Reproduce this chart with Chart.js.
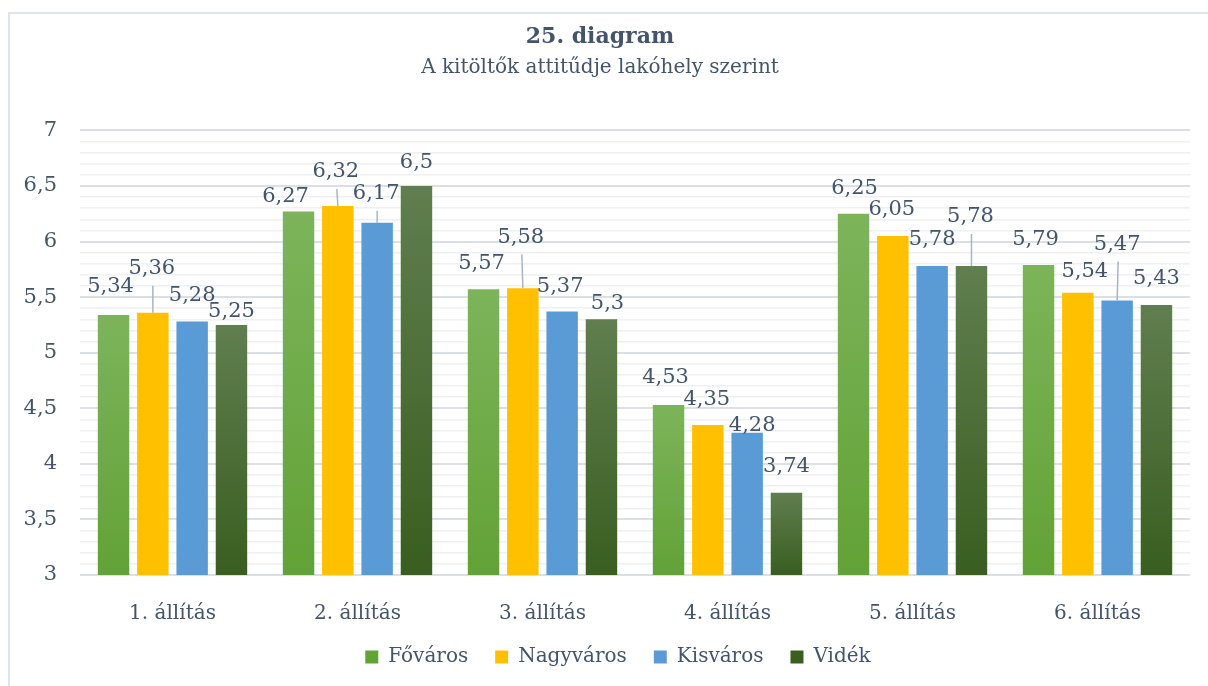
<!DOCTYPE html>
<html>
<head>
<meta charset="utf-8">
<script src="https://cdn.jsdelivr.net/npm/chart.js@4"></script>
<style>
  html, body { margin: 0; padding: 0; background: #fff; overflow: hidden; }
  #frame { position: absolute; left: 8px; top: 12px; width: 1220px; height: 720px;
           border-left: 2px solid #dfe3ea; border-top: 2px solid #dfe3ea; }
  canvas { position: absolute; left: 0; top: 0; }
</style>
</head>
<body>
<div id="frame"></div>
<canvas id="attitudeChart" width="1208" height="686"></canvas>
<script>
const categories = ["1. állítás", "2. állítás", "3. állítás", "4. állítás", "5. állítás", "6. állítás"];
const fovaros   = [5.34, 6.27, 5.57, 4.53, 6.25, 5.79];
const nagyvaros = [5.36, 6.32, 5.58, 4.35, 6.05, 5.54];
const kisvaros  = [5.28, 6.17, 5.37, 4.28, 5.78, 5.47];
const videk     = [5.25, 6.5, 5.3, 3.74, 5.78, 5.43];
const yTickLabels = ["3", "3,5", "4", "4,5", "5", "5,5", "6", "6,5", "7"];

// label placement (px nudges from the bar top), like Excel's moved labels
const labelNudge = [
  [[-3, -28], [-13, -15], [-2, -26], [-3, -27], [1, -25], [-3, -25]],
  [[-1, -44], [-2, -34], [-2, -51], [-1, -25], [-1, -26], [7, -21]],
  [[0, -26], [-1, -29], [-2, -25], [5, -7], [0, -26], [0, -56]],
  [[0, -13], [0, -23], [6, -16], [0, -26], [-1, -49], [0, -26]]
];

const textColor = "#44546a";
const serif = '"DejaVu Serif", serif';
Chart.defaults.font.family = serif;
Chart.defaults.color = textColor;

function barGradient(top, bottom) {
  return (c) => {
    const chart = c.chart;
    const area = chart.chartArea;
    if (!area || c.type !== "data") return bottom;
    const y = chart.scales.y.getPixelForValue(c.raw);
    const g = chart.ctx.createLinearGradient(0, y, 0, area.bottom);
    g.addColorStop(0, top);
    g.addColorStop(1, bottom);
    return g;
  };
}

const barLabels = {
  id: "barLabels",
  afterDatasetsDraw(chart) {
    const ctx = chart.ctx;
    ctx.save();
    ctx.font = "21px " + serif;
    ctx.fillStyle = textColor;
    ctx.textAlign = "center";
    ctx.textBaseline = "middle";
    ctx.strokeStyle = "#aab5c4";
    ctx.lineWidth = 1.5;
    chart.data.datasets.forEach((ds, i) => {
      chart.getDatasetMeta(i).data.forEach((bar, j) => {
        const [dx, dy] = labelNudge[i][j];
        const x = bar.x + dx, y = bar.y + dy;
        if (dy < -28.5) {
          ctx.beginPath();
          ctx.moveTo(x + 1, y + 17);
          ctx.lineTo(bar.x, bar.y);
          ctx.stroke();
        }
        ctx.fillText(String(ds.data[j]).replace(".", ","), x, y);
      });
    });
    ctx.restore();
  }
};

// the legend sits a bit right of centre in the original
const legendShift = {
  id: "legendShift",
  afterLayout(chart) {
    chart.legend.left += 18;
    chart.legend.right += 18;
  }
};

const data = {
  labels: categories,
  datasets: [
    { label: "Főváros", data: fovaros, backgroundColor: barGradient("#7db45b", "#62a236") },
    { label: "Nagyváros", data: nagyvaros, backgroundColor: "#ffc000" },
    { label: "Kisváros", data: kisvaros, backgroundColor: "#5b9bd5" },
    { label: "Vidék", data: videk, backgroundColor: barGradient("#607e4f", "#395e20") }
  ]
};

const config = {
  type: "bar",
  data: data,
  plugins: [barLabels, legendShift],
  options: {
    responsive: false,
    animation: false,
    layout: { padding: { left: 10, right: 18, top: 0, bottom: 9 } },
    datasets: { bar: { categoryPercentage: 0.85, barPercentage: 0.8 } },
    scales: {
      x: {
        grid: { display: false },
        border: { display: false },
        ticks: { padding: 19, font: { size: 20 } },
        afterFit: (s) => { s.height = 45; }
      },
      y: {
        min: 3,
        max: 7,
        border: { display: false },
        grid: {
          drawTicks: false,
          color: (c) => Math.round(c.tick.value * 10) % 5 === 0 ? "#dcdfe6" : "#eef0f4",
          lineWidth: (c) => Math.round(c.tick.value * 10) % 5 === 0 ? 2 : 1.5
        },
        ticks: {
          stepSize: 0.1,
          autoSkip: false,
          padding: 23,
          font: { size: 21 },
          callback: (v) => {
            const k = Math.round(v * 10);
            return k % 5 === 0 ? yTickLabels[(k - 30) / 5] : "";
          }
        },
        afterFit: (s) => { s.width = 70; }
      }
    },
    plugins: {
      title: {
        display: true,
        text: "25. diagram",
        color: textColor,
        font: { size: 22, weight: "bold" },
        padding: { top: 24, bottom: 0 }
      },
      subtitle: {
        display: true,
        text: "A kitöltők attitűdje lakóhely szerint",
        color: textColor,
        font: { size: 20 },
        padding: { top: 5, bottom: 51 }
      },
      legend: {
        position: "bottom",
        labels: { boxWidth: 13, boxHeight: 13, padding: 27, font: { size: 20 }, color: textColor }
      },
      tooltip: { enabled: false }
    }
  }
};

var attitude = document.getElementById("attitudeChart").getContext("2d");
var chart = new Chart(attitude, config);
</script>
</body>
</html>
